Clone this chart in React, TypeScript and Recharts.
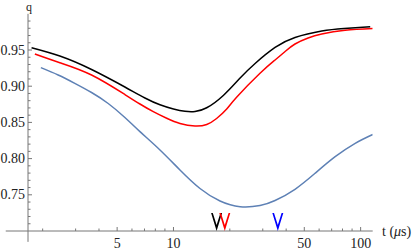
import React from 'react';
import { ComposedChart, Line, XAxis, YAxis, Scatter, ReferenceLine } from 'recharts';

// Black curve
const tBlack = [1.745, 2.47, 3.65, 5.5, 7.04, 8.47, 10.0, 11.52, 13.03, 15.05, 18.46, 22.7, 27.3, 34.9, 44.6, 62.0, 81.6, 112.5];
const qBlack = [0.9532, 0.9417, 0.9231, 0.8989, 0.8837, 0.8743, 0.8685, 0.8653, 0.865, 0.8702, 0.8872, 0.9113, 0.9314, 0.9535, 0.9673, 0.9762, 0.9797, 0.9822];

// Red curve
const tRed = [1.817, 2.47, 3.65, 5.5, 6.62, 7.8, 9.2, 10.83, 13.03, 15.05, 17.0, 19.25, 21.8, 29.0, 34.9, 39.5, 44.6, 52.4, 62.0, 82.6, 116];
const qRed = [0.9445, 0.9325, 0.9155, 0.8885, 0.8754, 0.8648, 0.8557, 0.8485, 0.845, 0.8471, 0.8554, 0.8685, 0.8851, 0.9178, 0.9362, 0.9479, 0.9583, 0.9666, 0.9721, 0.9773, 0.9798];

// Blue curve
const tBlue = [1.956, 2.42, 2.97, 3.65, 4.48, 5.5, 6.62, 8.47, 10.83, 13.86, 17.73, 22.7, 29.0, 34.9, 44.6, 57.1, 73.1, 93.5, 116];
const qBlue = [0.9256, 0.9155, 0.904, 0.8913, 0.8761, 0.8568, 0.8372, 0.8119, 0.7843, 0.7587, 0.7414, 0.7336, 0.7352, 0.7421, 0.7576, 0.7797, 0.8026, 0.8211, 0.8333];

// Arrow markers (t positions)
const markerBlack = [17.0];
const markerRed = [18.8];
const markerBlue = [36.1];

// Axis ticks
const xTicks = [2, 3, 4, 5, 6, 7, 8, 9, 10, 20, 30, 40, 50, 60, 70, 80, 90, 100];
const xLabels = [5, 10, 50, 100];
const yTicks = [0.71, 0.72, 0.73, 0.74, 0.75, 0.76, 0.77, 0.78, 0.79, 0.8, 0.81, 0.82, 0.83, 0.84, 0.85, 0.86, 0.87, 0.88, 0.89, 0.9, 0.91, 0.92, 0.93, 0.94, 0.95, 0.96, 0.97, 0.98, 0.99];
const yLabels = ['0.75', '0.80', '0.85', '0.90', '0.95'];

const X_DOMAIN = [1.67, 116];
const Y_DOMAIN = [0.7, 1.0];
const X_AXIS_START = 1.27;
const Y_AXIS_START = 0.685;

const toPts = (ts: number[], qs: number[]) => ts.map((t, i) => ({ t, v: qs[i] }));
const dataBlack = toPts(tBlack, qBlack);
const dataRed = toPts(tRed, qRed);
const dataBlue = toPts(tBlue, qBlue);
const mk = (ts: number[]) => ts.map((t) => ({ t, v: Y_DOMAIN[0] }));

const FONT = '"Liberation Serif", "DejaVu Serif", "Times New Roman", serif';
const AXIS = '#777';
const LABEL = '#222';
const textStyle = { fontFamily: FONT, fontSize: 14 };

const XTick = (props: any) => {
  const { x, y, payload } = props;
  const val = payload.value;
  const major = xLabels.includes(val);
  return (
    <g>
      <line x1={x} y1={y} x2={x} y2={y - (major ? 4 : 2.5)} stroke={AXIS} strokeWidth={1} />
      {major && (
        <text x={x} y={y + 17} textAnchor="middle" style={textStyle} fill={LABEL}>
          {val}
        </text>
      )}
    </g>
  );
};

const YTick = (props: any) => {
  const { x, y, payload } = props;
  const label = payload.value.toFixed(2);
  const major = yLabels.includes(label);
  return (
    <g>
      <line x1={x} y1={y} x2={x + (major ? 4 : 2.5)} y2={y} stroke={AXIS} strokeWidth={1} />
      {major && (
        <text x={x - 3} y={y + 4.5} textAnchor="end" style={textStyle} fill={LABEL}>
          {label}
        </text>
      )}
    </g>
  );
};

const arrowShape = (color: string) => (props: any) => {
  const { cx, cy } = props;
  const pts = `${cx - 5.5},${cy - 18} ${cx - 3.8},${cy - 18} ${cx},${cy - 6} ${cx + 3.8},${cy - 18} ${cx + 5.5},${cy - 18} ${cx},${cy}`;
  return <polygon points={pts} fill={color} />;
};

export default function App() {
  return (
    <div style={{ position: 'absolute', left: 0, top: 0, width: 415, height: 250, background: '#fff' }}>
      <ComposedChart width={415} height={250} margin={{ top: 13.8, right: 42.3, bottom: 18, left: 27 }}>
        <XAxis
          type="number"
          dataKey="t"
          scale="log"
          domain={X_DOMAIN}
          allowDataOverflow
          ticks={xTicks}
          interval={0}
          tick={<XTick />}
          tickLine={false}
          tickSize={0}
          tickMargin={0}
          height={1}
          stroke={AXIS}
        />
        <YAxis
          type="number"
          dataKey="v"
          domain={Y_DOMAIN}
          allowDataOverflow
          ticks={yTicks}
          interval={0}
          tick={<YTick />}
          tickLine={false}
          tickSize={0}
          tickMargin={0}
          width={1}
          stroke={AXIS}
        />
        <ReferenceLine
          segment={[{ x: X_AXIS_START, y: Y_DOMAIN[0] }, { x: X_DOMAIN[0], y: Y_DOMAIN[0] }]}
          stroke={AXIS}
          ifOverflow="visible"
        />
        <ReferenceLine
          segment={[{ x: X_DOMAIN[0], y: Y_AXIS_START }, { x: X_DOMAIN[0], y: Y_DOMAIN[0] }]}
          stroke={AXIS}
          ifOverflow="visible"
        />
        <Line data={dataBlue} dataKey="v" type="natural" stroke="#5E81B5" strokeWidth={1.5} dot={false} isAnimationActive={false} />
        <Line data={dataRed} dataKey="v" type="natural" stroke="#FF0000" strokeWidth={1.5} dot={false} isAnimationActive={false} />
        <Line data={dataBlack} dataKey="v" type="natural" stroke="#000000" strokeWidth={1.5} dot={false} isAnimationActive={false} />
        <Scatter data={mk(markerBlack)} dataKey="v" shape={arrowShape('#000000')} isAnimationActive={false} />
        <Scatter data={mk(markerRed)} dataKey="v" shape={arrowShape('#FF0000')} isAnimationActive={false} />
        <Scatter data={mk(markerBlue)} dataKey="v" shape={arrowShape('#0000FF')} isAnimationActive={false} />
        <text x={29} y={11} textAnchor="middle" style={{ fontFamily: FONT, fontSize: 12 }} fill={LABEL}>q</text>
        <text x={382} y={236} textAnchor="start" style={{ fontFamily: FONT, fontSize: 14 }} fill={LABEL}>
          t (<tspan fontStyle="italic">μ</tspan>s)
        </text>
      </ComposedChart>
    </div>
  );
}
